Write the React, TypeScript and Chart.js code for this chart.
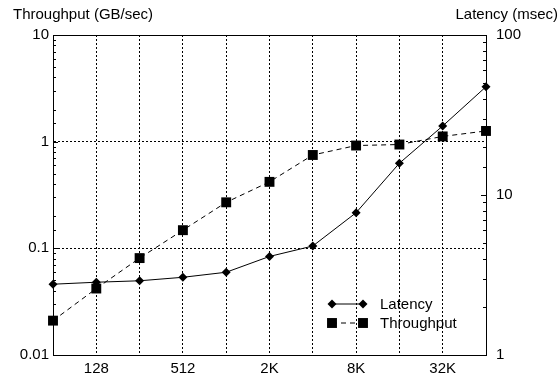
import React, { useEffect, useRef } from "react";
import { Chart, registerables } from "chart.js";

Chart.register(...registerables);

const SIZES = ["64", "128", "256", "512", "1K", "2K", "4K", "8K", "16K", "32K", "64K"];
const X_TICK_LABELS = ["", "128", "", "512", "", "2K", "", "8K", "", "32K", ""];
const LATENCY = [2.77, 2.85, 2.91, 3.06, 3.29, 4.13, 4.8, 7.75, 15.8, 27, 47.5];
const THROUGHPUT = [0.021, 0.042, 0.081, 0.148, 0.27, 0.42, 0.75, 0.92, 0.94, 1.12, 1.26];
const LEFT_TITLE = "Throughput (GB/sec)";
const RIGHT_TITLE = "Latency (msec)";
const SERIES_NAMES = ["Latency", "Throughput"];

const FONT_FAMILY = "'Liberation Sans', Arial, Helvetica, sans-serif";
const FONT_SIZE = 15;

const isDecade = (v: number) => {
  if (!(v > 0)) return false;
  const l = Math.log10(v);
  return Math.abs(l - Math.round(l)) < 1e-6;
};
const decadeLabel = (v: number) => {
  const e = Math.round(Math.log10(v));
  return e >= 0 ? String(Math.pow(10, e)) : (Math.pow(10, e)).toFixed(-e);
};

const decorPlugin = {
  id: "decor",
  afterDraw(chart: any) {
    const { ctx, chartArea } = chart;
    const { left, right, top, bottom } = chartArea;
    ctx.save();
    // top frame line
    ctx.strokeStyle = "#000";
    ctx.lineWidth = 1;
    ctx.setLineDash([]);
    ctx.beginPath();
    ctx.moveTo(left, top + 0.5);
    ctx.lineTo(right, top + 0.5);
    ctx.stroke();
    // inward minor ticks
    const yl = chart.scales.y;
    yl.ticks.forEach((t: any) => {
      const y = Math.round(yl.getPixelForValue(t.value)) + 0.5;
      const len = isDecade(t.value) ? 5 : 3;
      ctx.beginPath();
      ctx.moveTo(left, y);
      ctx.lineTo(left + len, y);
      ctx.stroke();
    });
    const yr = chart.scales.y2;
    yr.ticks.forEach((t: any) => {
      const y = Math.round(yr.getPixelForValue(t.value)) + 0.5;
      const len = isDecade(t.value) ? 5 : 3;
      ctx.beginPath();
      ctx.moveTo(right, y);
      ctx.lineTo(right - len, y);
      ctx.stroke();
    });
    // axis titles
    ctx.fillStyle = "#000";
    ctx.font = `${FONT_SIZE}px ${FONT_FAMILY}`;
    ctx.textBaseline = "middle";
    ctx.textAlign = "left";
    ctx.fillText(LEFT_TITLE, 13, 15);
    ctx.textAlign = "right";
    ctx.fillText(RIGHT_TITLE, 558, 15);
    // legend
    chart.data.datasets.forEach((ds: any, i: number) => {
      const y = bottom - 51 + i * 19;
      const x1 = right - 154;
      const x2 = right - 123;
      ctx.strokeStyle = "#000";
      ctx.lineWidth = 1;
      ctx.setLineDash(ds.borderDash || []);
      ctx.beginPath();
      ctx.moveTo(x1, y);
      ctx.lineTo(x2, y);
      ctx.stroke();
      ctx.setLineDash([]);
      ctx.fillStyle = "#000";
      [x1, x2].forEach((x) => {
        ctx.beginPath();
        if (ds.pointStyle === "rectRot") {
          const r = ds.pointRadius;
          ctx.moveTo(x - r, y);
          ctx.lineTo(x, y - r);
          ctx.lineTo(x + r, y);
          ctx.lineTo(x, y + r);
          ctx.closePath();
        } else {
          const s = ds.pointRadius * Math.SQRT1_2;
          ctx.rect(x - s, y - s, 2 * s, 2 * s);
        }
        ctx.fill();
      });
      ctx.textAlign = "left";
      ctx.textBaseline = "middle";
      ctx.fillText(ds.label, right - 106, y + 1);
    });
    ctx.restore();
  },
};

export default function App() {
  const ref = useRef<HTMLCanvasElement | null>(null);
  useEffect(() => {
    if (!ref.current) return;
    const font = { family: FONT_FAMILY, size: FONT_SIZE };
    const chart = new Chart(ref.current, {
      type: "line",
      data: {
        labels: SIZES,
        datasets: [
          {
            label: SERIES_NAMES[0],
            data: LATENCY,
            yAxisID: "y2",
            borderColor: "#000",
            backgroundColor: "#000",
            borderWidth: 1,
            pointStyle: "rectRot",
            pointRadius: 4.5,
            pointBorderWidth: 0,
            clip: false,
          },
          {
            label: SERIES_NAMES[1],
            data: THROUGHPUT,
            yAxisID: "y",
            borderColor: "#000",
            backgroundColor: "#000",
            borderWidth: 1,
            borderDash: [5, 4],
            pointStyle: "rect",
            pointRadius: 7,
            pointBorderWidth: 0,
            clip: false,
          },
        ],
      },
      options: {
        animation: false,
        responsive: false,
        maintainAspectRatio: false,
        layout: { padding: { top: 35, left: 0, right: 0, bottom: 0 } },
        plugins: { legend: { display: false }, tooltip: { enabled: false } },
        scales: {
          x: {
            type: "category",
            offset: false,
            grid: { color: "#000", lineWidth: 1, drawTicks: false },
            border: { display: true, color: "#000", width: 1, dash: [2, 2] },
            ticks: {
              autoSkip: false,
              maxRotation: 0,
              minRotation: 0,
              padding: 5,
              color: "#000",
              font,
              callback: (_v: any, i: number) => X_TICK_LABELS[i],
            },
            afterFit: (s: any) => {
              s.height = 25;
            },
          },
          y: {
            type: "logarithmic",
            position: "left",
            min: 0.01,
            max: 10,
            grid: {
              color: (c: any) => (c.tick && isDecade(c.tick.value) ? "#000" : "rgba(0,0,0,0)"),
              lineWidth: 1,
              drawTicks: false,
            },
            border: { display: true, color: "#000", width: 1, dash: [2, 2] },
            ticks: {
              autoSkip: false,
              padding: 4,
              color: "#000",
              font,
              callback: (v: any) => (isDecade(Number(v)) ? decadeLabel(Number(v)) : ""),
            },
            afterFit: (s: any) => {
              s.width = 53;
            },
          },
          y2: {
            type: "logarithmic",
            position: "right",
            min: 1,
            max: 100,
            grid: { drawOnChartArea: false, drawTicks: false },
            border: { display: true, color: "#000", width: 1 },
            ticks: {
              autoSkip: false,
              padding: 10,
              color: "#000",
              font,
              callback: (v: any) => (isDecade(Number(v)) ? decadeLabel(Number(v)) : ""),
            },
            afterFit: (s: any) => {
              s.width = 74;
            },
          },
        },
      },
      plugins: [decorPlugin],
    });
    return () => chart.destroy();
  }, []);
  return (
    <div style={{ position: "absolute", left: 0, top: 0, width: 560, height: 380, background: "#fff" }}>
      <canvas ref={ref} width={560} height={380} />
    </div>
  );
}
